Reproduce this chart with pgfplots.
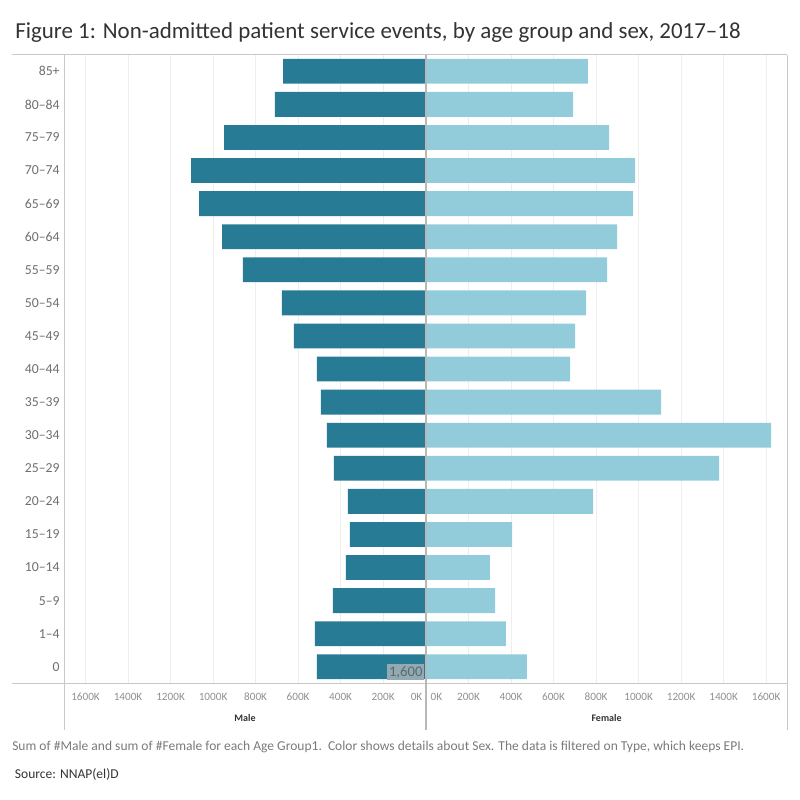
\documentclass[border=0pt]{standalone}
\usepackage{fontspec}
\setmainfont{Carlito}
\usepackage{pgfplots}
\pgfplotsset{compat=1.18}
\usepackage{pgfplotstable}
\definecolor{male}{HTML}{287B95}
\definecolor{female}{HTML}{92CCDA}
\definecolor{gridc}{HTML}{EEEEEE}
\definecolor{linec}{HTML}{C8C8C8}
\definecolor{zeroc}{HTML}{B8B8B8}
\definecolor{tickc}{HTML}{8F8F8F}
\definecolor{catc}{HTML}{6E6E6E}
\definecolor{titlec}{HTML}{333333}
\definecolor{footc}{HTML}{7A7A7A}
\pgfplotstableread{
y male female
0 512 475
1 521 376
2 436 325
3 375 301
4 356 405
5 366 786
6 432 1379
7 465 1624
8 493 1106
9 512 678
10 620 701
11 676 753
12 860 852
13 958 899
14 1066 974
15 1103 984
16 948 861
17 709 692
18 671 762
}\data
\begin{document}
\begin{tikzpicture}
\useasboundingbox (0,0) rectangle (600pt,-600pt);
\pgfplotsset{pyr/.style={
  scale only axis, width=271.05pt, height=471.45pt,
  xmin=0, xmax=1700, ymin=-0.5, ymax=18.5,
  axis line style={draw=none}, major tick length=0pt,
  xmajorgrids, grid style={gridc, line width=0.75pt},
  xtick={200,400,...,1600},
  xticklabels={200K,400K,600K,800K,1000K,1200K,1400K,1600K},
  xticklabel style={font=\fontsize{8.4}{9}\selectfont, text=tickc, yshift=-3.8pt},
  extra x ticks={0}, extra x tick labels={0K},
  ytick={0,...,18},
  clip=false,
}}
\begin{axis}[pyr, anchor=south west, at={(48.2pt,-512.5pt)}, x dir=reverse,
  extra x tick style={grid=none, xticklabel style={anchor=north east, xshift=1pt}},
  yticklabels={0,1–4,5–9,10–14,15–19,20–24,25–29,30–34,35–39,40–44,45–49,50–54,55–59,60–64,65–69,70–74,75–79,80–84,85+},
  yticklabel style={font=\fontsize{10.3}{12}\selectfont, text=catc}]
\addplot[xbar, bar width=0.75, fill=male, draw=none] table[x=male, y=y]{\data};
\end{axis}
\begin{axis}[pyr, anchor=south west, at={(319.5pt,-512.5pt)},
  extra x tick style={grid=none, xticklabel style={anchor=north west, xshift=0pt}},
  yticklabels={}]
\addplot[xbar, bar width=0.75, fill=female, draw=none] table[x=female, y=y]{\data};
\end{axis}
% frame lines
\draw[linec, line width=0.75pt] (9pt,-41pt) -- (590.5pt,-41pt);
\draw[linec, line width=1pt] (9pt,-512.5pt) -- (590.5pt,-512.5pt);
\draw[linec, line width=0.75pt] (48.2pt,-41pt) -- (48.2pt,-547.5pt);
\draw[linec, line width=0.75pt] (590.5pt,-41pt) -- (590.5pt,-547.5pt);
\draw[zeroc, line width=1pt] (319.5pt,-41pt) -- (319.5pt,-547.5pt);
% 1,600 label
\node[fill={rgb,255:red,148;green,170;blue,178}, inner sep=0pt, minimum width=28pt, minimum height=12pt, text={rgb,255:red,90;green,105;blue,112}, font=\fontsize{11}{12}\selectfont] at (304.3pt,-504pt) {1,600};
% axis titles
\node[anchor=base, font=\fontsize{7.5}{9}\selectfont\bfseries, text=titlec] at (183.75pt,-540.75pt) {Male};
\node[anchor=base, font=\fontsize{7.5}{9}\selectfont\bfseries, text=titlec] at (454.9pt,-540.75pt) {Female};
% title
\node[anchor=base west, inner sep=0pt, font=\fontsize{17.2}{20}\selectfont, text=titlec] at (11.25pt,-29pt) {Figure 1: Non-admitted patient service events, by age group and sex, 2017–18};
% footer
\node[anchor=base west, inner sep=0pt, font=\fontsize{10.15}{12}\selectfont, text=footc] at (9pt,-563pt) {Sum of \#Male and sum of \#Female for each Age Group1.\ \ Color shows details about Sex. The data is filtered on Type, which keeps EPI.};
\node[anchor=base west, inner sep=0pt, font=\fontsize{10.15}{12}\selectfont, text=titlec] at (11pt,-584pt) {Source: NNAP(el)D};
\end{tikzpicture}
\end{document}
